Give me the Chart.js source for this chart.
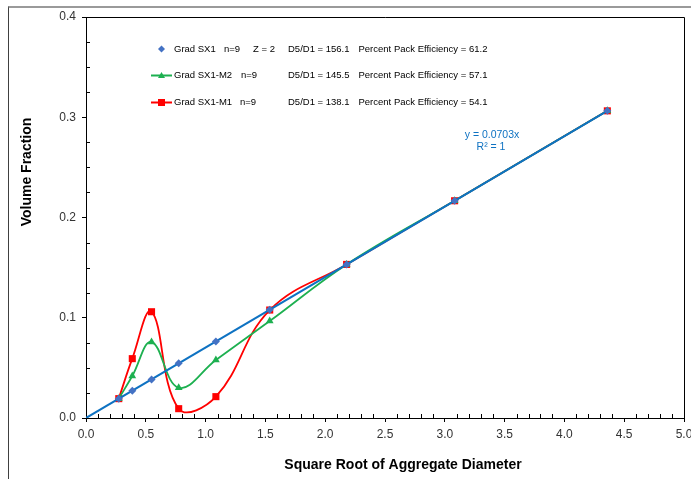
<!DOCTYPE html>
<html>
<head>
<meta charset="utf-8">
<script src="https://cdn.jsdelivr.net/npm/chart.js@4.4.1/dist/chart.umd.min.js"></script>
<style>
  html, body { margin: 0; padding: 0; background: #fff; overflow: hidden; }
  #wrap { position: relative; width: 691px; height: 479px; }
  #frame { position: absolute; left: 8px; top: 6px; width: 720px; height: 520px;
           border-left: 1px solid #404040; border-top: 2px solid #9a9a9a; }
  #c { position: absolute; left: 0; top: 0; }
</style>
</head>
<body>
<div id="wrap">
  <div id="frame"></div>
  <canvas id="c" width="691" height="479"></canvas>
</div>
<script>
// square root of sieve size (x) and volume fractions
const sqrtSize = [0.274, 0.387, 0.548, 0.775, 1.086, 1.536, 2.179, 3.082, 4.359];
const gradSX1  = [0.0193, 0.0272, 0.0385, 0.0545, 0.0764, 0.1080, 0.1532, 0.2167, 0.3064];
const gradM2   = [0.0193, 0.0419, 0.0758, 0.0302, 0.0579, 0.0967, 0.1532, 0.2167, 0.3064];
const gradM1   = [0.0193, 0.0592, 0.1060, 0.0093, 0.0213, 0.1077, 0.1532, 0.2167, 0.3064];

// linear trendline y = 0.0703x
const trendX = [0, 4.359];
const trendY = [0, 0.3064];
const trendText = ["y = 0.0703x", "R\u00b2 = 1"];

// legend rows
const legendNames = ["Grad SX1", "Grad SX1-M2", "Grad SX1-M1"];
const legendN     = ["n=9", "n=9", "n=9"];
const legendZ     = ["Z = 2", "", ""];
const legendRatio = ["D5/D1 = 156.1", "D5/D1 = 145.5", "D5/D1 = 138.1"];
const legendPPE   = ["Percent Pack Efficiency = 61.2", "Percent Pack Efficiency = 57.1", "Percent Pack Efficiency = 54.1"];

const xTitle = "Square Root of Aggregate Diameter";
const yTitle = "Volume Fraction";

const BLUE = "#4472C4", TREND = "#0E72C2", GREEN = "#1DB050", RED = "#FF0000";
const FONT = "'Liberation Sans', Arial, sans-serif";

function pts(xs, ys) {
  return xs.map((x, i) => ({ x: x, y: ys[i] }));
}

// legend markers
function marker(ctx, style, x, y, color) {
  ctx.save();
  ctx.fillStyle = color;
  ctx.beginPath();
  if (style === "rectRot") {
    ctx.moveTo(x, y - 3.5); ctx.lineTo(x + 3.5, y); ctx.lineTo(x, y + 3.5); ctx.lineTo(x - 3.5, y);
  } else if (style === "triangle") {
    ctx.moveTo(x, y - 3.5); ctx.lineTo(x + 3.5, y + 2.5); ctx.lineTo(x - 3.5, y + 2.5);
  } else {
    ctx.rect(x - 3.5, y - 3.5, 7, 7);
  }
  ctx.closePath();
  ctx.fill();
  ctx.restore();
}

const decorations = {
  id: "decorations",
  beforeDatasetsDraw(chart) {
    const { ctx, chartArea: a } = chart;
    ctx.save();
    ctx.strokeStyle = "#000";
    ctx.lineWidth = 1;
    ctx.beginPath();
    ctx.moveTo(a.left, a.top + 0.5); ctx.lineTo(a.right + 0.5, a.top + 0.5);
    ctx.lineTo(a.right + 0.5, a.bottom);
    ctx.stroke();
    ctx.restore();
  },
  afterDraw(chart) {
    const { ctx, chartArea: a, scales } = chart;
    const xs = scales.x, ys = scales.y;
    ctx.save();
    // minor ticks, drawn inside the plot
    ctx.strokeStyle = "#000";
    ctx.lineWidth = 1;
    ctx.beginPath();
    for (let i = 1; i < 50; i++) {
      if (i % 5 === 0) continue;
      const px = Math.round(xs.getPixelForValue(i / 10)) + 0.5;
      ctx.moveTo(px, a.bottom); ctx.lineTo(px, a.bottom - 4);
    }
    for (let i = 1; i < 16; i++) {
      if (i % 4 === 0) continue;
      const py = Math.round(ys.getPixelForValue(i * 0.025)) + 0.5;
      ctx.moveTo(a.left, py); ctx.lineTo(a.left + 4, py);
    }
    ctx.stroke();

    // axis titles
    ctx.fillStyle = "#000";
    ctx.font = "bold 14px " + FONT;
    ctx.textAlign = "center";
    ctx.textBaseline = "middle";
    ctx.fillText(xTitle, 403, 465);
    ctx.save();
    ctx.translate(27, 172);
    ctx.rotate(-Math.PI / 2);
    ctx.fillText(yTitle, 0, 0);
    ctx.restore();

    // trendline label
    ctx.fillStyle = TREND;
    ctx.font = "10.5px " + FONT;
    ctx.fillText(trendText[0], 492, 135.5);
    ctx.fillText(trendText[1], 491, 147);

    // legend
    const rowsY = [49, 75.5, 102.5];
    const styles = ["rectRot", "triangle", "rect"];
    const colors = [BLUE, GREEN, RED];
    const lines = [false, true, true];
    const nX = [224, 241, 240];
    ctx.font = "9.5px " + FONT;
    ctx.textAlign = "left";
    ctx.fillStyle = "#000";
    rowsY.forEach((y, i) => {
      if (lines[i]) {
        ctx.strokeStyle = colors[i];
        ctx.lineWidth = 2;
        ctx.beginPath();
        ctx.moveTo(151, y); ctx.lineTo(172, y);
        ctx.stroke();
      }
      marker(ctx, styles[i], 161.5, y, colors[i]);
      ctx.fillStyle = "#000";
      ctx.fillText(legendNames[i], 174, y);
      ctx.fillText(legendN[i], nX[i], y);
      if (legendZ[i]) ctx.fillText(legendZ[i], 253, y);
      ctx.fillText(legendRatio[i], 288, y);
      ctx.fillText(legendPPE[i], 358.5, y);
    });
    ctx.restore();
  }
};

new Chart(document.getElementById("c"), {
  type: "scatter",
  data: {
    datasets: [
      { label: legendNames[0], data: pts(sqrtSize, gradSX1), showLine: false,
        pointStyle: "rectRot", pointRadius: 4, backgroundColor: BLUE, borderColor: BLUE, borderWidth: 0 },
      { label: "Linear (Grad SX1)", data: pts(trendX, trendY), showLine: true,
        borderColor: TREND, borderWidth: 2, pointRadius: 0 },
      { label: legendNames[1], data: pts(sqrtSize, gradM2), showLine: true, tension: 0.4,
        borderColor: GREEN, borderWidth: 1.8, pointStyle: "triangle", pointRadius: 4.5,
        backgroundColor: GREEN, pointBorderWidth: 0 },
      { label: legendNames[2], data: pts(sqrtSize, gradM1), showLine: true, tension: 0.4,
        borderColor: RED, borderWidth: 1.8, pointStyle: "rect", pointRadius: 5,
        backgroundColor: RED, pointBorderWidth: 0 }
    ]
  },
  options: {
    responsive: false,
    animation: false,
    devicePixelRatio: 1,
    layout: { padding: { top: 17, right: 7, left: 0, bottom: 0 } },
    plugins: { legend: { display: false }, tooltip: { enabled: false } },
    elements: { line: { capBezierPoints: false } },
    scales: {
      x: {
        type: "linear", min: 0, max: 5,
        afterFit: s => { s.height = 61; s.paddingLeft = 0; s.paddingRight = 0; },
        ticks: { stepSize: 0.5, padding: 5, color: "#333", font: { size: 12, family: FONT },
                 callback: v => v.toFixed(1), maxRotation: 0 },
        grid: { drawOnChartArea: false, tickLength: 4, color: "#000" },
        border: { color: "#000", width: 1 }
      },
      y: {
        type: "linear", min: 0, max: 0.4,
        afterFit: s => { s.width = 86; s.paddingTop = 0; s.paddingBottom = 0; },
        ticks: { stepSize: 0.1, padding: 6, color: "#333", font: { size: 12, family: FONT },
                 callback: v => v.toFixed(1) },
        grid: { drawOnChartArea: false, tickLength: 4, color: "#000" },
        border: { color: "#000", width: 1 }
      }
    }
  },
  plugins: [decorations]
});
</script>
</body>
</html>
